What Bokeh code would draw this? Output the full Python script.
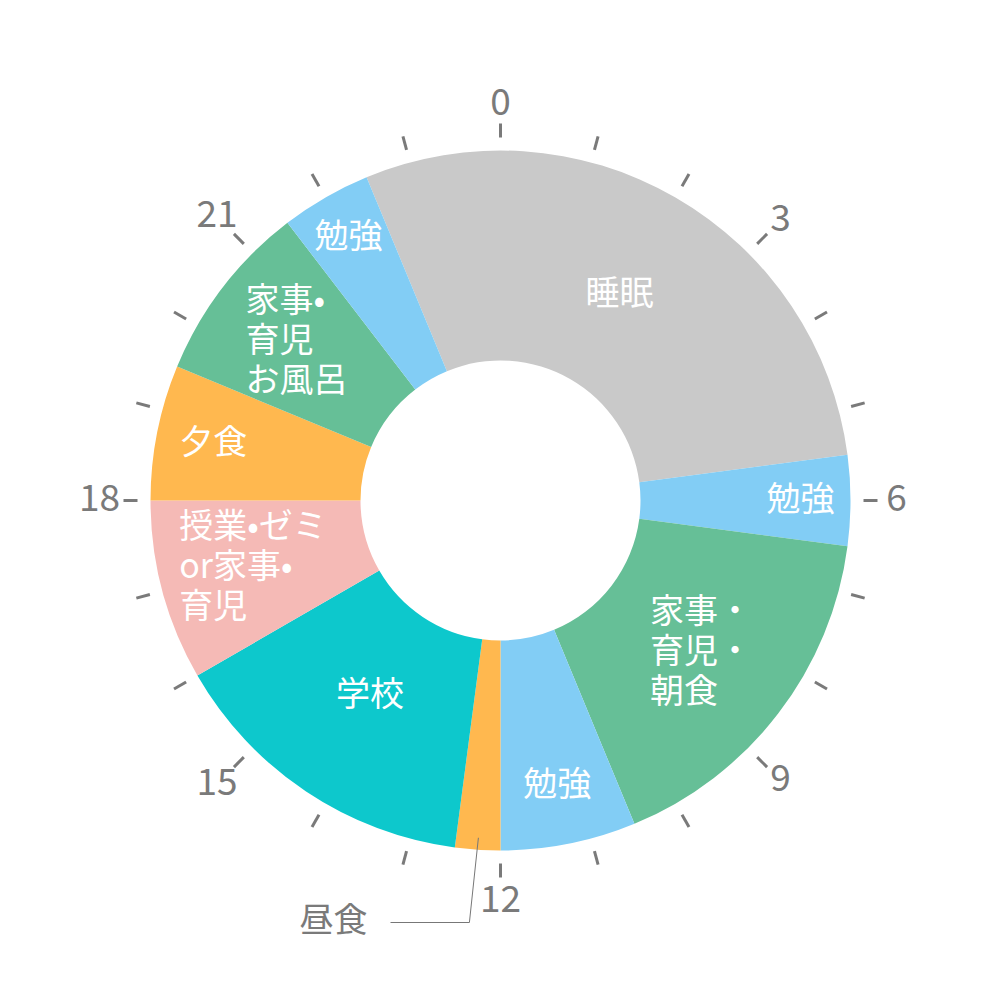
import numpy as np
from bokeh.plotting import figure
from bokeh.models import Range1d
from bokeh.embed import file_html
from bokeh.resources import INLINE
from bokeh.core.properties import value

# ---- data ----
activities = ["睡眠", "勉強", "家事・\n育児・\n朝食", "勉強", "昼食", "学校",
              "授業•ゼミ\nor家事•\n育児", "夕食", "家事•\n育児\nお風呂", "勉強"]
start_hours = [22.5, 5.5, 6.5, 10.5, 12.0, 12.5, 16.0, 18.0, 19.5, 21.5]
end_hours = [5.5, 6.5, 10.5, 12.0, 12.5, 16.0, 18.0, 19.5, 21.5, 22.5]
colors = ["#C9C9C9", "#82CDF5", "#66BF97", "#82CDF5", "#FFB84F", "#0DC8CC",
          "#F5BAB6", "#FFB84F", "#66BF97", "#82CDF5"]
hour_ticks = list(range(24))
hour_labels = ["0", "3", "6", "9", "12", "15", "18", "21"]

# ---- layout / style ----
FONT = value("Noto Sans CJK JP")
R_IN, R_OUT = 140, 350
TICK_R0, TICK_R1 = 363, 377
GRAY = "#7A7A7A"
TEXT_DY = 4  # optical centring of CJK glyphs
# label radius per slice (None = outside annotation), block alignment
label_radius = [238, 300, 249, 291, None, 235, 257, 293, 261, 304]
block_half_width = [0, 0, 48, 0, 0, 0, 73, 0, 48, 0]
LINE_H = 40


def theta(h):
    return np.pi / 2 - 2 * np.pi * h / 24.0


def polar(h, r):
    t = theta(h)
    return r * np.cos(t), r * np.sin(t)


p = figure(width=984, height=984, x_range=Range1d(-500, 484), y_range=Range1d(-484, 500),
           output_backend="svg", toolbar_location=None, min_border=0,
           x_axis_location=None, y_axis_location=None)
p.grid.grid_line_color = None
p.outline_line_color = None
p.background_fill_color = "white"

starts = [s - 24 if s > e else s for s, e in zip(start_hours, end_hours)]
p.annular_wedge(x=0, y=0, inner_radius=R_IN, outer_radius=R_OUT,
                start_angle=[theta(s) for s in starts],
                end_angle=[theta(e) for e in end_hours],
                direction="clock", fill_color=colors, line_color=None)

# hour ticks
x0 = [polar(h, TICK_R0)[0] for h in hour_ticks]
y0 = [polar(h, TICK_R0)[1] for h in hour_ticks]
x1 = [polar(h, TICK_R1)[0] for h in hour_ticks]
y1 = [polar(h, TICK_R1)[1] for h in hour_ticks]
p.segment(x0=x0, y0=y0, x1=x1, y1=y1, line_color=GRAY, line_width=3)

# hour labels (wider labels sit a little further out)
lr = [396 + 5 * (len(t) - 1) for t in hour_labels]
lx = [polar(int(t), r)[0] for t, r in zip(hour_labels, lr)]
ly = [polar(int(t), r)[1] + 3 for t, r in zip(hour_labels, lr)]
p.text(x=lx, y=ly, text=hour_labels, text_font=FONT, text_font_size="37px",
       text_color=GRAY, text_align="center", text_baseline="middle")

# slice labels
tx, ty, tt, ta = [], [], [], []
for name, s, e, r, hw in zip(activities, starts, end_hours, label_radius, block_half_width):
    if r is None:
        continue
    cx, cy = polar((s + e) / 2.0, r)
    lines = name.split("\n")
    n = len(lines)
    for i, ln in enumerate(lines):
        yy = cy + ((n - 1) / 2.0 - i) * LINE_H + TEXT_DY
        if n > 1:
            tx.append(cx - hw)
            ta.append("left")
        else:
            tx.append(cx)
            ta.append("center")
        ty.append(yy)
        tt.append(ln)
p.text(x=tx, y=ty, text=tt, text_align=ta, text_font=FONT, text_font_size="34px",
       text_color="white", text_baseline="middle")

# outside annotation for lunch
i_lunch = label_radius.index(None)
ex, ey = polar((starts[i_lunch] + end_hours[i_lunch]) / 2.0, 338)
knee_y = -422
p.line(x=[-110, ex - 9, ex], y=[knee_y, knee_y, ey], line_color="#777777", line_width=1)
p.text(x=[-167], y=[-420 + 3], text=[activities[i_lunch]], text_font=FONT, text_font_size="34px",
       text_color=GRAY, text_align="center", text_baseline="middle")

open("out.html", "w").write(file_html(p, INLINE))
